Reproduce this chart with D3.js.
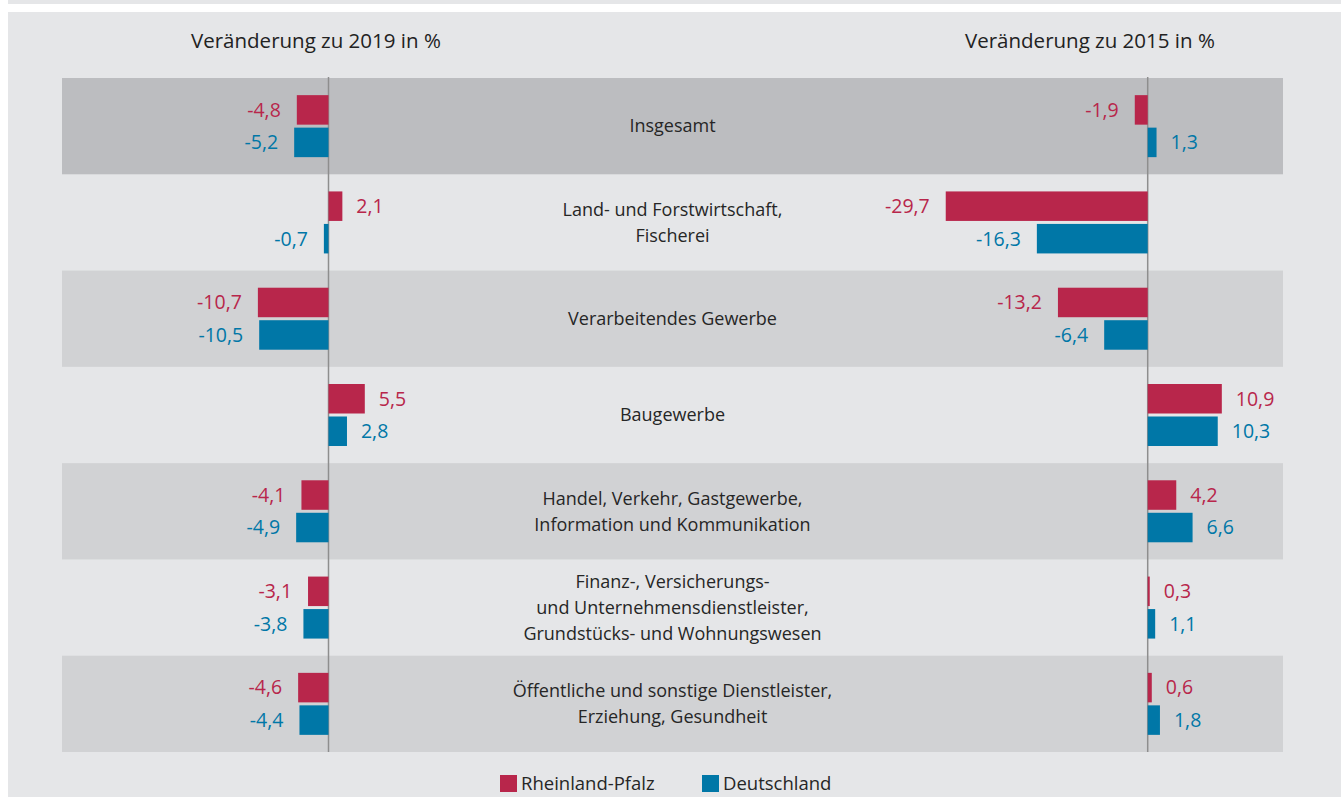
<!DOCTYPE html>
<meta charset="utf-8">
<style>
  body { margin: 0; background: #fff; }
  svg { display: block; }
  text { font-family: "Open Sans", sans-serif; }
  .cat { font-size: 18px; fill: #262626; }
  .val { font-size: 19.5px; }
  .title { font-size: 20.5px; fill: #222; }
  .legend text { font-size: 18.5px; fill: #262626; }
</style>
<body>
<svg width="1341" height="797"></svg>
<script src="https://d3js.org/d3.v7.min.js"></script>
<script>

// categories (line breaks as in the original)
var categories = [
  ["Insgesamt"],
  ["Land- und Forstwirtschaft,", "Fischerei"],
  ["Verarbeitendes Gewerbe"],
  ["Baugewerbe"],
  ["Handel, Verkehr, Gastgewerbe,", "Information und Kommunikation"],
  ["Finanz-, Versicherungs-", "und Unternehmensdienstleister,", "Grundstücks- und Wohnungswesen"],
  ["Öffentliche und sonstige Dienstleister,", "Erziehung, Gesundheit"]
];
// row shading: 2 = dark, 1 = medium, 0 = none
var shading = [2, 0, 1, 0, 1, 0, 1];

var rp2019 = [-4.8, 2.1, -10.7, 5.5, -4.1, -3.1, -4.6];
var de2019 = [-5.2, -0.7, -10.5, 2.8, -4.9, -3.8, -4.4];
var rp2015 = [-1.9, -29.7, -13.2, 10.9, 4.2, 0.3, 0.6];
var de2015 = [1.3, -16.3, -6.4, 10.3, 6.6, 1.1, 1.8];

var seriesNames = ["Rheinland-Pfalz", "Deutschland"];
var titles = ["Veränderung zu 2019 in %", "Veränderung zu 2015 in %"];

var colors = { rp: "#b8264b", de: "#0077a7" };
var bandFill = ["none", "#d1d2d4", "#bcbdc0"];

var fmt = d3.formatLocale({ decimal: ",", thousands: ".", grouping: [3], currency: ["", " €"], minus: "-" }).format(".1f");

var svg = d3.select("svg"),
    width = +svg.attr("width"),
    height = +svg.attr("height");

// backgrounds
svg.append("rect").attr("x", 8).attr("y", 0).attr("width", width - 8).attr("height", 4).attr("fill", "#e5e6e8");
svg.append("rect").attr("x", 8).attr("y", 12).attr("width", width - 8).attr("height", height - 12).attr("fill", "#e5e6e8");

var idx = d3.range(categories.length);

var y = d3.scaleBand().domain(idx).range([78, 752]).paddingInner(0);
var inner = d3.scaleBand().domain(["rp", "de"]).range([-31, 31]).paddingInner(0.092);

var xL = d3.scaleLinear().domain([-15, 15]).range([328.5 - 15 * 6.6, 328.5 + 15 * 6.6]);
var xR = d3.scaleLinear().domain([-30, 15]).range([1147.7 - 30 * 6.8, 1147.7 + 15 * 6.8]);

// row bands
svg.append("g").selectAll("rect")
  .data(idx)
  .enter().append("rect")
  .attr("x", 62)
  .attr("width", 1283 - 62)
  .attr("y", d => y(d))
  .attr("height", y.bandwidth())
  .attr("fill", d => bandFill[shading[d]]);

// axis lines
[xL, xR].forEach(function(x) {
  svg.append("line")
    .attr("x1", x(0)).attr("x2", x(0))
    .attr("y1", 77).attr("y2", 752)
    .attr("stroke", "#8e8e8e")
    .attr("stroke-width", 1.5);
});

// bars and value labels
var panels = [
  { x: xL, rp: rp2019, de: de2019 },
  { x: xR, rp: rp2015, de: de2015 }
];

panels.forEach(function(p) {
  var rows = [];
  idx.forEach(function(i) {
    rows.push({ i: i, key: "rp", v: p.rp[i] });
    rows.push({ i: i, key: "de", v: p.de[i] });
  });
  var g = svg.append("g");
  g.selectAll("rect")
    .data(rows)
    .enter().append("rect")
    .attr("x", d => Math.min(p.x(0), p.x(d.v)))
    .attr("width", d => Math.abs(p.x(d.v) - p.x(0)))
    .attr("y", d => y(d.i) + y.bandwidth() / 2 + inner(d.key))
    .attr("height", inner.bandwidth())
    .attr("fill", d => colors[d.key]);

  g.selectAll("text")
    .data(rows)
    .enter().append("text")
    .attr("class", "val")
    .attr("x", d => d.v < 0 ? p.x(d.v) - 16 : p.x(d.v) + 14)
    .attr("y", d => y(d.i) + y.bandwidth() / 2 + inner(d.key) + inner.bandwidth() / 2)
    .attr("dy", "0.35em")
    .attr("text-anchor", d => d.v < 0 ? "end" : "start")
    .attr("fill", d => colors[d.key])
    .text(d => fmt(d.v));
});

// category labels
var lineH = 26;
svg.append("g").selectAll("text")
  .data(idx)
  .enter().append("text")
  .attr("class", "cat")
  .attr("text-anchor", "middle")
  .each(function(i) {
    var lines = categories[i];
    var cy = y(i) + y.bandwidth() / 2;
    var t = d3.select(this);
    lines.forEach(function(l, k) {
      t.append("tspan")
        .attr("x", 672.5)
        .attr("y", cy + (k - (lines.length - 1) / 2) * lineH)
        .attr("dy", "0.35em")
        .text(l);
    });
  });

// titles
svg.append("text").attr("class", "title").attr("x", 191).attr("y", 48).text(titles[0]);
svg.append("text").attr("class", "title").attr("x", 965).attr("y", 48).text(titles[1]);

// legend
var legend = svg.append("g").attr("class", "legend");
var legX = [500, 702];
seriesNames.forEach(function(name, k) {
  legend.append("rect")
    .attr("x", legX[k]).attr("y", 775)
    .attr("width", 17).attr("height", 17)
    .attr("fill", k === 0 ? colors.rp : colors.de);
  legend.append("text")
    .attr("x", legX[k] + 21).attr("y", 783.5)
    .attr("dy", "0.35em")
    .text(name);
});

</script>
</body>
